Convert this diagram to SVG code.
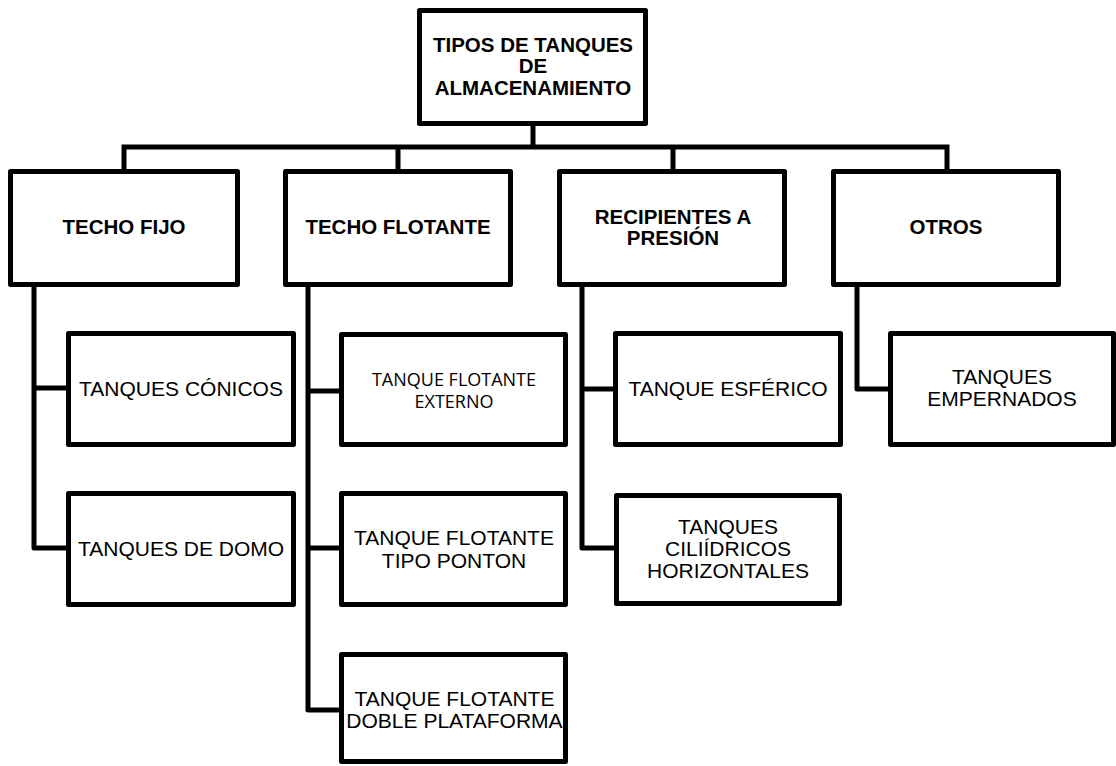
<svg xmlns="http://www.w3.org/2000/svg" width="1116" height="766" viewBox="0 0 1116 766">
  <style>
    .box { fill: #ffffff; stroke: #000000; stroke-width: 5; stroke-linejoin: round; }
    .wire { fill: none; stroke: #000000; stroke-width: 5; stroke-linejoin: round; stroke-linecap: square; }
    .hd { font-family: "Liberation Sans", Arial, sans-serif; font-weight: bold; font-size: 20.5px; fill: #000; text-anchor: middle; }
    .lb { font-family: "Liberation Sans", Arial, sans-serif; font-size: 21px; fill: #000; text-anchor: middle; }
    .lc { font-family: "Open Sans", "Noto Sans", sans-serif; font-size: 18px; fill: #000; text-anchor: middle; }
  </style>
  <rect width="1116" height="766" fill="#ffffff"/>

  <!-- connectors -->
  <g id="connectors">
    <path class="wire" d="M533 126 V147 M124 147 H947 M124 147 V169 M398 147 V169 M673 147 V169 M947 147 V169"/>
    <path class="wire" d="M34 287 V548 H66 M34 388 H66"/>
    <path class="wire" d="M308 287 V710 H339 M308 391 H339 M308 548 H339"/>
    <path class="wire" d="M582 287 V548 H613 M582 389 H613"/>
    <path class="wire" d="M857 287 V389 H888"/>
  </g>

  <g id="root">
    <rect class="box" x="419.5" y="10.5" width="226" height="113"/>
    <text class="hd" x="533" y="52">TIPOS DE TANQUES</text>
    <text class="hd" x="533" y="73">DE</text>
    <text class="hd" x="533" y="95">ALMACENAMIENTO</text>
  </g>

  <g id="techo-fijo">
    <rect class="box" x="10.5" y="171.5" width="227" height="113"/>
    <text class="hd" x="124" y="234">TECHO FIJO</text>
  </g>
  <g id="techo-flotante">
    <rect class="box" x="285.5" y="171.5" width="225" height="113"/>
    <text class="hd" x="398" y="234">TECHO FLOTANTE</text>
  </g>
  <g id="recipientes-presion">
    <rect class="box" x="559.5" y="171.5" width="225" height="113"/>
    <text class="hd" x="673" y="224">RECIPIENTES A</text>
    <text class="hd" x="673" y="245">PRESIÓN</text>
  </g>
  <g id="otros">
    <rect class="box" x="833.5" y="171.5" width="225" height="113"/>
    <text class="hd" x="946" y="234">OTROS</text>
  </g>

  <g id="tanques-conicos">
    <rect class="box" x="68.5" y="333.5" width="225" height="111"/>
    <text class="lb" x="181" y="396">TANQUES CÓNICOS</text>
  </g>
  <g id="tanques-domo">
    <rect class="box" x="68.5" y="493.5" width="225" height="111"/>
    <text class="lb" x="181" y="556">TANQUES DE DOMO</text>
  </g>

  <g id="flotante-externo">
    <rect class="box" x="341.5" y="334.5" width="224" height="110"/>
    <text class="lc" x="454" y="386">TANQUE FLOTANTE</text>
    <text class="lc" x="454" y="408">EXTERNO</text>
  </g>
  <g id="flotante-ponton">
    <rect class="box" x="341.5" y="493.5" width="224" height="111"/>
    <text class="lb" x="454" y="545">TANQUE FLOTANTE</text>
    <text class="lb" x="454" y="568">TIPO PONTON</text>
  </g>
  <g id="flotante-doble">
    <rect class="box" x="341.5" y="654.5" width="224" height="107"/>
    <text class="lb" x="454.5" y="706">TANQUE FLOTANTE</text>
    <text class="lb" x="454.5" y="728">DOBLE PLATAFORMA</text>
  </g>

  <g id="tanque-esferico">
    <rect class="box" x="615.5" y="333.5" width="225" height="111"/>
    <text class="lb" x="728" y="396">TANQUE ESFÉRICO</text>
  </g>
  <g id="tanques-cilindricos">
    <rect class="box" x="616.5" y="495.5" width="223" height="108"/>
    <text class="lb" x="728" y="534">TANQUES</text>
    <text class="lb" x="728" y="556">CILIÍDRICOS</text>
    <text class="lb" x="728" y="578">HORIZONTALES</text>
  </g>

  <g id="tanques-empernados">
    <rect class="box" x="890.5" y="333.5" width="223" height="111"/>
    <text class="lb" x="1002" y="384">TANQUES</text>
    <text class="lb" x="1002" y="406">EMPERNADOS</text>
  </g>
</svg>
